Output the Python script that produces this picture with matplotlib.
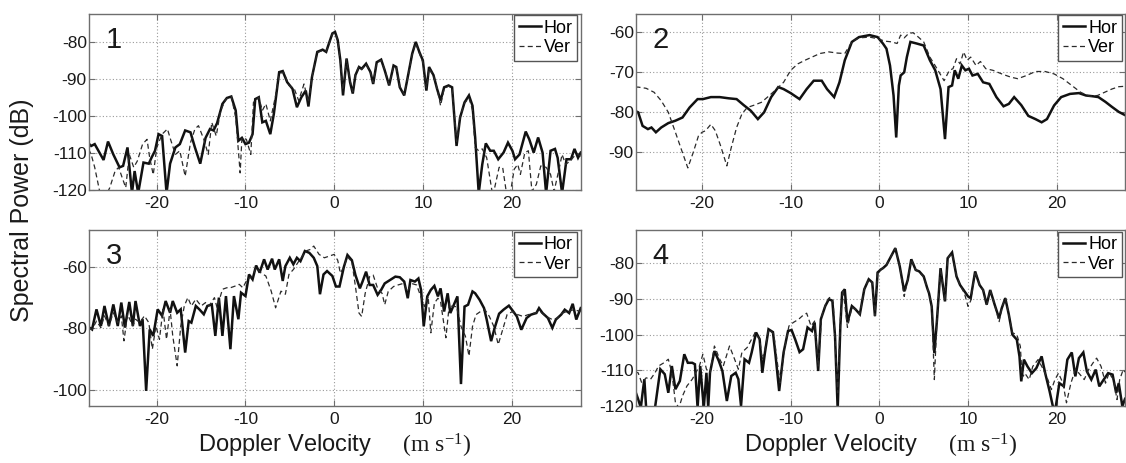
import numpy as np
import matplotlib
matplotlib.use('Agg')
import matplotlib.pyplot as plt

plt.rcParams['font.family'] = ['Liberation Sans', 'DejaVu Sans']
plt.rcParams['axes.unicode_minus'] = False
plt.rcParams['mathtext.fontset'] = 'custom'
plt.rcParams['mathtext.rm'] = 'Liberation Serif'
plt.rcParams['mathtext.it'] = 'Liberation Serif:italic'
plt.rcParams['mathtext.bf'] = 'Liberation Serif:bold'

# ---------------- data (Doppler velocity m/s, spectral power dB) ----------------
p1_hor = [(-27.7,-107.5),(-27.4,-108.2),(-27.0,-107.7),(-26.0,-112),(-25.5,-107),(-24.9,-110.5),(-24.2,-114),
          (-23.8,-113.6),(-23.3,-108.6),(-22.8,-121),(-22.5,-115),(-22.1,-121),(-21.5,-112.7),(-20.9,-113),
          (-20.6,-111.4),(-20.2,-109.5),(-19.8,-105),(-19.4,-105.5),(-18.9,-121),(-18.5,-113),(-17.9,-108.6),
          (-17.4,-107.7),(-16.8,-104),(-16.2,-104.5),(-15.7,-108.6),(-15.1,-113),(-14.5,-106),(-14.0,-103.6),
          (-13.6,-104),(-13.2,-102),(-12.6,-96.8),(-12.1,-95.2),(-11.6,-94.8),(-11.1,-98.6),(-10.8,-106.8),
          (-10.4,-106),(-10.0,-107.7),(-9.6,-107.3),(-9.2,-105),(-8.9,-95.5),(-8.5,-95),(-8.1,-101.8),
          (-7.7,-101.4),(-7.2,-105),(-6.8,-99.5),(-6.2,-88.2),(-5.8,-87.9),(-5.3,-90.9),(-4.7,-92.7),
          (-4.2,-97.7),(-3.7,-95),(-3.2,-93.2),(-2.9,-97.5),(-2.5,-89.5),(-1.9,-82.7),(-1.3,-82.1),
          (-0.9,-82.7),(-0.6,-80.5),(-0.2,-77.7),(0.1,-77.3),(0.4,-79.5),(0.7,-85),(1.0,-94.5),(1.4,-84.5),
          (1.8,-91),(2.1,-94),(2.4,-89),(2.8,-86.8),(3.1,-87.3),(3.6,-85.9),(4.1,-88.2),(4.4,-91.4),
          (4.8,-85.5),(5.3,-84.8),(5.7,-87.7),(6.2,-91.8),(6.7,-86.4),(7.0,-86.8),(7.4,-92.3),(7.9,-94.5),
          (8.3,-89.5),(8.8,-83.2),(9.2,-80),(9.6,-82.7),(10.0,-85),(10.4,-93.2),(10.7,-86.8),(11.2,-89),
          (11.6,-92.7),(12.0,-95.9),(12.4,-92.3),(12.9,-91.8),(13.3,-92.3),(13.8,-108.2),(14.2,-100.5),
          (14.7,-96.4),(15.2,-94.5),(15.6,-97.3),(15.9,-105.9),(16.3,-121),(16.7,-113.2),(17.1,-107.5),
          (17.6,-109.5),(18.0,-109.5),(18.5,-111.8),(19.1,-110),(19.6,-107.3),(20.1,-109.5),(20.4,-111.8),
          (20.9,-110.5),(21.6,-104.3),(22.0,-106.4),(22.5,-110),(23.0,-105.9),(23.5,-110),(23.9,-121),
          (24.4,-109.5),(24.9,-109),(25.2,-111.4),(25.7,-121),(26.2,-111.8),(26.7,-111.8),(27.1,-109),
          (27.5,-111.4),(27.8,-110)]

p1_ver = [(-27.7,-109),(-27.4,-110.5),(-27.0,-114),(-26.4,-121),(-25.8,-122),(-25.3,-119.5),(-24.7,-115),
          (-24.3,-114),(-23.9,-116.8),(-23.5,-119.5),(-23.1,-110.5),(-22.6,-114),(-22.2,-112.3),(-21.6,-107.7),
          (-21.1,-106.4),(-20.8,-111.4),(-20.4,-116),(-20.0,-108.6),(-19.4,-105),(-18.8,-103.6),(-18.4,-106.8),
          (-17.9,-110.5),(-17.4,-109.5),(-16.8,-116.4),(-16.2,-107.3),(-15.7,-103.6),(-15.3,-102.7),
          (-14.7,-106.4),(-14.2,-110.5),(-13.8,-101.8),(-13.3,-105.5),(-12.8,-98.6),(-12.2,-95.5),
          (-11.6,-94.8),(-11.1,-100.5),(-10.6,-115.5),(-10.4,-106),(-9.9,-106.4),(-9.4,-110.5),(-9.1,-96.4),
          (-8.5,-95),(-8.1,-98.6),(-7.7,-96.8),(-7.2,-101.4),(-6.6,-94.5),(-6.2,-88.6),(-5.7,-88.2),
          (-5.1,-91.8),(-4.5,-92.7),(-4.0,-95.9),(-3.4,-91.4),(-2.9,-96.4),(-2.5,-89.5),(-1.9,-82.9),
          (-1.3,-82.3),(-0.9,-82.5),(-0.6,-80.7),(-0.2,-77.9),(0.1,-77.5),(0.4,-79.7),(0.7,-85.2),(1.0,-93.0),
          (1.4,-84.7),(1.8,-90.5),(2.1,-93.5),(2.4,-88.8),(2.8,-86.6),(3.1,-87.5),(3.6,-86.1),(4.1,-88.4),
          (4.4,-91.0),(4.8,-85.7),(5.3,-85.0),(5.7,-87.5),(6.2,-91.5),(6.7,-86.6),(7.0,-87.0),(7.4,-92.0),
          (7.9,-94.2),(8.3,-89.7),(8.8,-83.4),(9.2,-80.3),(9.6,-83.0),(10.0,-85.5),(10.4,-92.5),(10.7,-87.2),
          (11.2,-89.3),(11.6,-92.5),(12.0,-97.3),(12.4,-92.6),(12.9,-92.0),(13.3,-92.6),(13.8,-107.0),
          (14.2,-100.2),(14.7,-96.6),(15.2,-95.2),(15.6,-98.5),(15.9,-108.6),(16.3,-109.5),(16.7,-109),
          (17.2,-111.4),(17.8,-120.5),(18.1,-119.5),(18.6,-114),(19.0,-114),(19.4,-120.5),(19.9,-120.5),
          (20.3,-114.5),(20.7,-113.2),(21.0,-115.9),(21.5,-110),(21.9,-109.5),(22.3,-120.5),(22.8,-118.6),
          (23.3,-113.6),(23.9,-114),(24.4,-115.9),(24.8,-120.5),(25.4,-114),(25.7,-110.5),(26.1,-113.2),
          (26.6,-112.3),(27.1,-110.9),(27.5,-110.5),(27.8,-111)]

p2_hor = [(-27.5,-79.8),(-27.2,-80.1),(-26.7,-83.5),(-26.1,-84.3),(-25.7,-83.9),(-25.2,-85.1),(-24.6,-83.9),
          (-23.8,-82.8),(-23.0,-82.2),(-22.2,-81.4),(-21.4,-78.9),(-20.5,-76.8),(-19.9,-76.8),(-19.0,-76.3),
          (-18.0,-76.3),(-17.0,-76.6),(-16.1,-76.8),(-15.3,-78.3),(-14.5,-79.7),(-13.7,-81.8),(-13.0,-80.1),
          (-12.2,-76.3),(-11.4,-73.8),(-10.8,-74.3),(-10.0,-75.3),(-9.0,-76.8),(-8.2,-74.3),(-7.4,-72.2),
          (-6.5,-72.2),(-5.9,-74.3),(-5.1,-76.3),(-4.5,-72.6),(-3.9,-67.1),(-3.1,-62.5),(-2.3,-61.3),
          (-1.1,-60.8),(-0.2,-61.3),(0.4,-62.9),(0.8,-64.2),(1.2,-68.4),(1.6,-75.9),(1.9,-86.4),(2.2,-73.4),
          (2.4,-70.9),(2.8,-70.1),(3.1,-66.3),(3.5,-62.5),(4.2,-62.9),(5.0,-63.4),(5.7,-67.1),(6.3,-69.6),
          (6.9,-74.3),(7.4,-86.8),(7.8,-73.8),(8.2,-73.4),(8.5,-69.6),(8.9,-71.7),(9.3,-68.4),(9.7,-69.6),
          (10.1,-69.2),(10.5,-70.9),(11.1,-70.5),(11.7,-72.6),(12.4,-73.0),(13.2,-76.3),(14.0,-78.6),
          (14.6,-78.0),(15.2,-76.3),(16.0,-78.3),(16.8,-81.0),(17.6,-81.8),(18.3,-82.6),(18.9,-81.8),
          (19.7,-78.4),(20.5,-76.3),(21.5,-75.5),(22.5,-75.3),(23.3,-75.9),(24.1,-76.1),(24.7,-76.3),
          (25.5,-77.5),(26.2,-78.7),(27.0,-80.0),(27.7,-80.8)]

p2_ver = [(-27.5,-73.8),(-27.2,-73.8),(-26.3,-74.1),(-25.4,-75.1),(-24.6,-77.2),(-23.8,-80.1),(-23.0,-85.1),
          (-22.2,-90.2),(-21.6,-94.0),(-21.0,-90.2),(-20.4,-86.0),(-20.0,-85.1),(-19.6,-84.7),(-19.0,-83.1),
          (-18.5,-84.7),(-17.9,-88.5),(-17.2,-93.5),(-16.7,-88.9),(-16.1,-83.9),(-15.5,-80.5),(-14.9,-78.9),
          (-14.1,-78.3),(-13.3,-77.6),(-12.4,-75.9),(-11.6,-74.3),(-10.8,-72.6),(-10.0,-69.6),(-9.2,-68.0),
          (-8.4,-67.1),(-7.6,-66.3),(-6.7,-65.4),(-5.7,-65.0),(-4.7,-65.3),(-3.9,-65.4),(-3.1,-62.5),
          (-2.3,-61.5),(-1.1,-61.3),(-0.2,-61.7),(0.6,-62.3),(1.4,-62.5),(2.0,-62.9),(2.4,-60.8),(2.8,-61.5),
          (3.3,-60.4),(3.8,-60.2),(4.4,-61.3),(5.0,-62.5),(5.7,-66.3),(6.5,-69.2),(7.3,-72.2),(7.9,-69.6),
          (8.3,-69.2),(8.7,-66.7),(9.1,-68.0),(9.5,-65.0),(9.9,-67.1),(10.3,-66.3),(10.9,-68.4),(11.4,-67.4),
          (12.0,-69.2),(12.8,-69.6),(13.8,-70.5),(14.8,-71.3),(15.6,-71.7),(16.6,-70.9),(17.6,-69.9),
          (18.7,-69.9),(19.7,-70.5),(20.7,-71.7),(21.7,-73.4),(22.7,-75.1),(23.7,-76.1),(24.6,-75.9),
          (25.4,-75.1),(26.2,-74.3),(27.0,-73.7),(27.7,-73.6)]

p3_hor = [(-27.7,-79.5),(-27.3,-80.3),(-26.8,-73.8),(-26.3,-79.2),(-25.9,-72.7),(-25.4,-79.2),(-24.9,-72.2),
          (-24.4,-79.2),(-24.0,-71.6),(-23.6,-79.7),(-23.1,-71.4),(-22.7,-79.2),(-22.4,-71.1),(-21.9,-79.2),
          (-21.6,-77.0),(-21.2,-100.2),(-20.8,-80.3),(-20.4,-82.4),(-19.9,-73.8),(-19.4,-75.9),(-19.0,-71.1),
          (-18.5,-74.9),(-18.2,-71.1),(-17.7,-74.9),(-17.3,-73.8),(-16.8,-87.8),(-16.4,-77.6),(-16.1,-78.1),
          (-15.6,-72.7),(-15.2,-73.8),(-14.7,-75.4),(-14.3,-72.7),(-13.8,-72.2),(-13.4,-82.4),(-13.0,-70.0),
          (-12.6,-82.4),(-12.2,-69.5),(-11.7,-86.7),(-11.3,-69.5),(-10.8,-77.0),(-10.5,-68.4),(-10.0,-69.5),
          (-9.6,-62.5),(-9.2,-64.1),(-8.8,-59.6),(-8.4,-61.9),(-7.9,-57.6),(-7.5,-60.9),(-7.0,-57.4),
          (-6.7,-60.9),(-6.2,-57.6),(-5.8,-64.6),(-5.5,-59.8),(-5.0,-57.1),(-4.6,-59.2),(-4.2,-57.1),
          (-3.8,-58.2),(-3.3,-54.9),(-2.8,-55.5),(-2.3,-57.1),(-1.9,-59.8),(-1.6,-68.9),(-1.2,-62.5),
          (-0.8,-61.4),(-0.2,-63.0),(0.2,-66.4),(0.6,-66.4),(1.1,-60),(1.5,-56.2),(2.0,-57.9),(2.4,-62.7),
          (2.9,-67),(3.2,-64.8),(3.6,-61.6),(4.0,-65.9),(4.4,-65.9),(4.9,-69.1),(5.3,-67.5),(5.7,-65.4),
          (6.3,-64.3),(6.9,-63.2),(7.4,-63.4),(7.9,-64.8),(8.3,-70.2),(8.6,-64.3),(9.1,-64.8),(9.5,-63.8),
          (9.8,-67.5),(10.1,-79.3),(10.5,-69.6),(10.9,-67.5),(11.3,-66.2),(11.7,-69.6),(12.0,-67.0),
          (12.4,-74.5),(12.8,-68.6),(13.1,-75),(13.5,-72.3),(13.9,-69.6),(14.3,-98.0),(14.7,-72.9),
          (15.1,-72.3),(15.6,-68.0),(15.9,-68.6),(16.4,-70.7),(16.9,-73.4),(17.2,-77.1),(17.7,-84.1),
          (18.1,-79.8),(18.6,-75.2),(19.1,-73.9),(19.7,-72.6),(20.2,-74.5),(20.6,-76.1),(21.1,-80.4),
          (21.7,-76.6),(22.2,-75.5),(22.8,-75),(23.1,-73.4),(23.5,-75),(24.1,-76.6),(24.6,-79.8),(25.0,-77.1),
          (25.6,-75.5),(26.0,-73.9),(26.5,-75),(26.9,-72.0),(27.3,-77.1),(27.8,-73.4)]

p3_ver = [(-27.7,-80.0),(-27.3,-80.3),(-26.8,-77.6),(-26.3,-79.7),(-25.9,-75.9),(-25.4,-79.2),(-24.9,-74.9),
          (-24.4,-78.1),(-24.0,-75.9),(-23.7,-84.0),(-23.3,-75.4),(-22.7,-79.2),(-22.4,-77.0),(-21.9,-78.1),
          (-21.4,-75.9),(-20.9,-78.1),(-20.5,-86.7),(-20.1,-79.2),(-19.7,-83.5),(-19.3,-73.8),(-18.9,-83.5),
          (-18.5,-73.8),(-18.2,-82.4),(-17.7,-92.1),(-17.3,-79.2),(-16.9,-72.7),(-16.5,-70.0),(-16.1,-72.7),
          (-15.6,-70.5),(-15.0,-72.7),(-14.5,-71.6),(-14.1,-72.7),(-13.5,-70.0),(-13.2,-73.3),(-12.6,-67.3),
          (-12.1,-66.8),(-11.7,-66.8),(-11.2,-66.3),(-10.7,-65.7),(-10.3,-66.8),(-9.8,-64.1),(-9.2,-63.0),
          (-8.8,-60.3),(-8.3,-61.9),(-7.7,-63.0),(-7.1,-67.9),(-6.6,-73.3),(-6.0,-67.9),(-5.5,-68.9),
          (-5.1,-62.5),(-4.6,-60.9),(-4.1,-58.7),(-3.6,-56.6),(-3.2,-54.9),(-2.7,-54.4),(-2.3,-53.3),
          (-1.7,-56.0),(-1.1,-57.1),(-0.6,-56.6),(0.0,-56.0),(0.4,-57.9),(0.7,-62.1),(1.1,-60),(1.5,-56.8),
          (2.0,-58.4),(2.4,-66.4),(2.8,-75),(3.1,-76.1),(3.5,-68.6),(4.0,-63.2),(4.4,-62.7),(4.9,-67.0),
          (5.4,-68.6),(5.7,-72.3),(6.1,-68.0),(6.7,-66.4),(7.2,-65.9),(7.8,-65.4),(8.3,-68.0),(8.7,-65.4),
          (9.3,-65.9),(9.7,-69.1),(10.2,-72.9),(10.6,-69.6),(10.9,-81.4),(11.3,-71.8),(11.7,-70.2),
          (12.0,-71.3),(12.6,-83.0),(13.0,-71.8),(13.3,-72.9),(13.8,-72.9),(14.3,-79.3),(14.8,-82.5),
          (15.2,-88.9),(15.6,-79.3),(16.0,-75.5),(16.5,-74.5),(17.0,-73.9),(17.5,-76.1),(18.0,-79.3),
          (18.5,-85.2),(19.0,-80.4),(19.5,-75.5),(20.1,-74.5),(20.7,-75.5),(21.3,-76.1),(21.9,-75.5),
          (22.6,-75),(23.2,-74.5),(23.9,-76.1),(24.6,-77.1),(25.2,-76.6),(25.7,-75),(26.4,-74.5),(27.0,-73.9),
          (27.8,-74.5)]

p4_hor = [(-27.5,-116),(-27.2,-118.1),(-26.9,-120.5),(-26.7,-116.3),(-26.5,-112.5),(-26.3,-120.5),
          (-25.8,-120.5),(-25.3,-120.5),(-24.7,-109.7),(-24.2,-111.1),(-23.8,-116.3),(-23.4,-108.8),
          (-23.0,-115.3),(-22.5,-113),(-22.0,-105.5),(-21.6,-107.9),(-21.1,-107.9),(-20.8,-108.3),
          (-20.5,-120.5),(-20.2,-108.8),(-19.8,-120.5),(-19.5,-110.7),(-19.3,-120.5),(-19.1,-110.7),
          (-18.6,-104.6),(-18.1,-107.4),(-17.7,-110.2),(-17.2,-118.6),(-16.7,-111.6),(-16.2,-110.7),
          (-15.9,-112.5),(-15.6,-120),(-15.2,-106.9),(-14.7,-107.9),(-14.4,-105),(-13.9,-99.4),(-13.5,-101.3),
          (-13.2,-110.7),(-12.9,-105),(-12.5,-98.5),(-12.0,-99.3),(-11.7,-106),(-11.3,-115.8),(-10.8,-105),
          (-10.3,-99),(-9.9,-98.7),(-9.5,-101.3),(-9.0,-104.9),(-8.6,-104.1),(-8.1,-98),(-7.6,-99),
          (-7.3,-96.6),(-6.9,-110.2),(-6.6,-95.7),(-6.1,-92),(-5.7,-90.1),(-5.3,-90.5),(-5.0,-100.4),
          (-4.7,-121),(-4.4,-97.6),(-4.2,-88.2),(-3.9,-87.3),(-3.6,-96.6),(-3.1,-92),(-2.7,-92.9),
          (-2.2,-94.3),(-1.7,-87.3),(-1.2,-84.5),(-0.8,-85.4),(-0.5,-94.8),(-0.2,-82.6),(0.2,-81.7),
          (0.4,-81.4),(0.8,-80.5),(1.4,-77.7),(1.8,-75.8),(2.3,-80.9),(2.8,-87.9),(3.2,-84.7),(3.6,-78.9),
          (4.1,-81.9),(4.5,-82.3),(5.0,-83.7),(5.4,-87),(5.6,-88.4),(5.9,-92.1),(6.2,-105.2),(6.5,-95.8),
          (6.9,-81.4),(7.4,-90.7),(7.7,-78.6),(8.2,-77),(8.7,-83.7),(9.1,-86.1),(9.6,-87.9),(10.0,-89.3),
          (10.3,-89.8),(10.8,-82.3),(11.3,-86.1),(11.7,-87.5),(12.1,-91.6),(12.5,-87.5),(13.0,-91.6),
          (13.5,-95.4),(13.8,-92.6),(14.2,-89.8),(14.6,-94.4),(15.0,-100),(15.5,-101.4),(15.8,-106.1),
          (16.0,-113.1),(16.3,-107),(16.7,-108.9),(17.2,-110.8),(17.7,-109.4),(18.3,-106.1),(18.7,-110.8),
          (19.2,-115.9),(19.6,-120.5),(19.9,-120.1),(20.3,-113.6),(20.8,-114.5),(21.2,-107),(21.7,-105),
          (22.1,-111.7),(22.5,-106.6),(23.0,-105),(23.4,-110.3),(23.9,-112.6),(24.4,-109.8),(24.8,-114.5),
          (25.3,-112.6),(25.8,-110.8),(26.3,-111.2),(26.7,-116.3),(27.0,-113.6),(27.4,-120.1),(27.7,-118)]

p4_ver = [(-27.5,-110.5),(-27.2,-110.7),(-26.8,-113.5),(-26.3,-112.1),(-25.8,-112.5),(-25.3,-110.7),
          (-24.9,-108.8),(-24.3,-107.9),(-23.8,-106.9),(-23.4,-110.7),(-23.0,-119),(-22.6,-120.5),
          (-22.2,-117.2),(-21.7,-114.4),(-21.1,-112.5),(-20.7,-110.7),(-20.3,-108.8),(-19.9,-105.5),
          (-19.5,-109.7),(-19.1,-110.7),(-18.6,-103.2),(-18.0,-106.9),(-17.6,-108.8),(-16.9,-103.2),
          (-16.4,-106.4),(-15.9,-109.7),(-15.5,-105),(-14.9,-103.6),(-14.4,-101.3),(-14.0,-99.4),
          (-13.5,-101.3),(-13.2,-106.9),(-12.9,-104.1),(-12.5,-98.5),(-11.9,-99.9),(-11.6,-106),
          (-11.2,-113.5),(-10.7,-104.1),(-10.2,-97.6),(-9.7,-96.6),(-9.1,-95.7),(-8.7,-94.8),(-8.2,-94.0),
          (-7.7,-97.6),(-7.3,-96.2),(-6.9,-108.8),(-6.5,-94.8),(-6.0,-91),(-5.6,-89.6),(-5.2,-91),
          (-4.9,-106.9),(-4.7,-116.3),(-4.4,-95.7),(-4.1,-87.3),(-3.6,-98),(-3.1,-92.4),(-2.7,-92.9),
          (-2.2,-94.3),(-1.7,-87.3),(-1.2,-84.5),(-0.8,-85.4),(-0.5,-94.8),(-0.2,-82.6),(0.2,-81.7),
          (0.4,-81.4),(0.8,-80.5),(1.4,-77.7),(1.8,-75.8),(2.3,-80.9),(2.8,-89.3),(3.2,-84.7),(3.6,-78.9),
          (4.1,-81.9),(4.5,-82.5),(5.0,-83.9),(5.4,-87),(5.6,-88.4),(5.9,-92.1),(6.2,-112.6),(6.5,-95.8),
          (6.9,-81.4),(7.4,-90.7),(7.7,-78.6),(8.2,-77.3),(8.7,-83.7),(9.1,-86.1),(9.6,-88.5),(10.0,-92.1),
          (10.3,-90.5),(10.8,-82.3),(11.3,-86.1),(11.7,-87.5),(12.1,-91.6),(12.5,-87.5),(13.0,-91.6),
          (13.5,-96.5),(13.8,-92.6),(14.2,-89.8),(14.6,-94.4),(15.0,-99.5),(15.5,-100),(15.9,-103.3),
          (16.1,-112.1),(16.4,-110.8),(16.9,-112.6),(17.3,-108.9),(17.9,-107),(18.5,-109.8),(19.0,-112.6),
          (19.4,-115.4),(19.8,-112.6),(20.2,-110.8),(20.7,-113.6),(21.1,-119.1),(21.6,-113.6),(22.1,-109.8),
          (22.5,-110.8),(23.1,-112.6),(23.6,-109.8),(24.1,-107.9),(24.5,-106.6),(25.0,-108.9),(25.5,-113.6),
          (25.9,-110.8),(26.4,-112.6),(26.8,-118.2),(27.1,-112.6),(27.5,-109.8),(27.7,-110.5)]

panel_labels = ['1', '2', '3', '4']
series_names = ['Hor', 'Ver']
x_ticks = [-20, -10, 0, 10, 20]
y_ticks = [[-120, -110, -100, -90, -80],
           [-90, -80, -70, -60],
           [-100, -80, -60],
           [-120, -110, -100, -90, -80]]
y_limits = [(-120, -72.3), (-99.4, -55.4), (-105.1, -48.1), (-120, -70.7)]
x_limits = [(-27.7, 27.8), (-27.5, 27.7), (-27.7, 27.8), (-27.5, 27.7)]
hor_data = [p1_hor, p2_hor, p3_hor, p4_hor]
ver_data = [p1_ver, p2_ver, p3_ver, p4_ver]
y_title = 'Spectral Power (dB)'
x_title = 'Doppler Velocity     $\\mathrm{(m\\ s^{-1})}$'

# ---------------- figure ----------------
W, H = 1126, 463
fig = plt.figure(figsize=(W / 100, H / 100), dpi=100)
boxes = [(88.5, 13.5, 580.7, 189.5), (635.5, 13.5, 1125.0, 189.5),
         (88.5, 230.0, 580.7, 406.0), (635.5, 230.0, 1125.0, 406.0)]

spine_col = '#6e6e6e'
for i, (x0, y0, x1, y1) in enumerate(boxes):
    ax = fig.add_axes([x0 / W, 1 - y1 / H, (x1 - x0) / W, (y1 - y0) / H])
    hv = np.array(hor_data[i]); vv = np.array(ver_data[i])
    ax.plot(hv[:, 0], hv[:, 1], color='#111111', lw=1.8, label=series_names[0],
            solid_joinstyle='miter')
    ax.plot(vv[:, 0], vv[:, 1], color='#2a2a2a', lw=0.9, ls=(0, (4, 2.6)), label=series_names[1])
    ax.set_xlim(*x_limits[i])
    ax.set_ylim(*y_limits[i])
    ax.set_xticks(x_ticks)
    ax.set_yticks(y_ticks[i])
    ax.set_axisbelow(True)
    ax.grid(True, color='#9a9a9a', lw=0.8, ls=(0, (1, 2)))
    for s in ax.spines.values():
        s.set_color(spine_col)
        s.set_linewidth(1.0)
    ax.tick_params(direction='in', length=4, width=0.8, color=spine_col,
                   top=True, right=True, labelsize=12.5, labelcolor='#1a1a1a')
    ax.tick_params(axis='y', pad=1.2)
    ax.tick_params(axis='x', pad=4.5)
    pw = x1 - x0; ph = y1 - y0
    ax.text(17 / pw, 1 - 12.5 / ph, panel_labels[i], transform=ax.transAxes,
            fontsize=21, ha='left', va='top', color='#1a1a1a')
    leg = ax.legend(loc='upper right', bbox_to_anchor=(1 - 3.4 / pw, 1 - 1.5 / ph),
                    borderaxespad=0, fontsize=13, handlelength=1.25, handletextpad=0.15,
                    borderpad=0.25, labelspacing=0.15, fancybox=False, framealpha=1,
                    edgecolor='#555555')
    leg.get_frame().set_linewidth(1.0)
    if i >= 2:
        ax.text(0.5, (y1 - 452.7) / ph, x_title, transform=ax.transAxes,
                ha='center', va='baseline', fontsize=17, color='#1a1a1a')

fig.text(22.5 / W, 1 - 210.5 / H, y_title, rotation=90, ha='center', va='center',
         fontsize=18, color='#1a1a1a')

fig.savefig('out.png', dpi=100)
